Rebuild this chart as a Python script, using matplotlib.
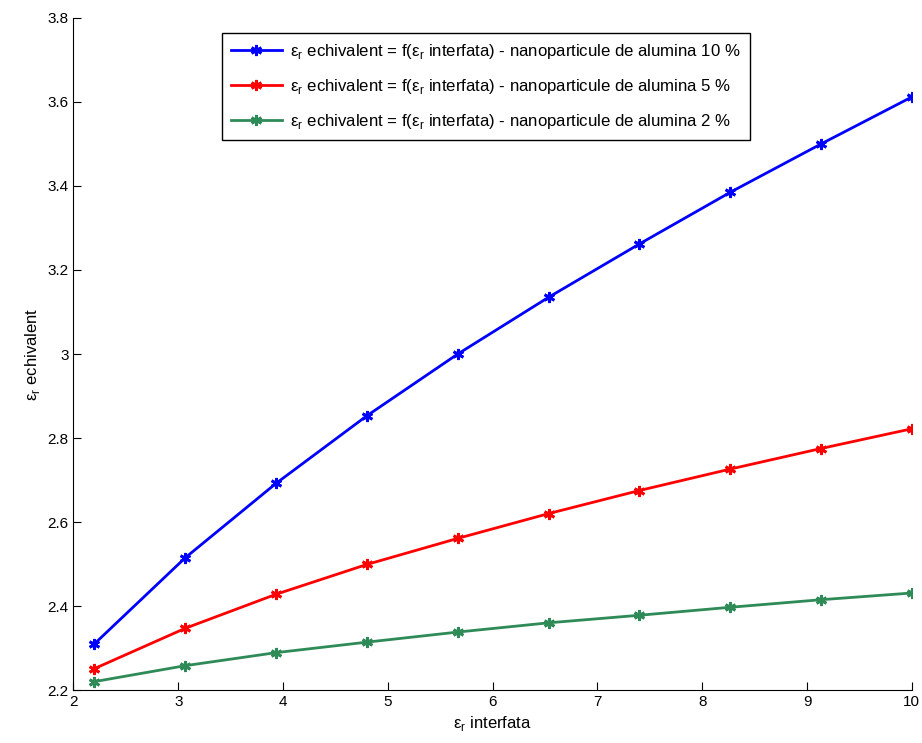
import numpy as np
import matplotlib.pyplot as plt
from matplotlib.ticker import FuncFormatter

plt.rcParams['font.family'] = ['Liberation Sans', 'DejaVu Sans']
plt.rcParams['mathtext.fontset'] = 'custom'
plt.rcParams['mathtext.rm'] = 'Liberation Sans'

# date
eps_interfata = [2.2, 3.067, 3.933, 4.8, 5.667, 6.533, 7.4, 8.267, 9.133, 10.0]
eps_10 = [2.31, 2.515, 2.692, 2.853, 3.0, 3.135, 3.262, 3.385, 3.50, 3.612]
eps_5 = [2.251, 2.347, 2.428, 2.499, 2.561, 2.620, 2.675, 2.726, 2.775, 2.822]
eps_2 = [2.220, 2.258, 2.289, 2.314, 2.338, 2.360, 2.378, 2.397, 2.415, 2.431]

er = r'ε$_\mathregular{r}$'
labels = [
    er + ' echivalent = f(' + er + ' interfata) - nanoparticule de alumina 10 %',
    er + ' echivalent = f(' + er + ' interfata) - nanoparticule de alumina 5 %',
    er + ' echivalent = f(' + er + ' interfata) - nanoparticule de alumina 2 %',
]
culori = ['#0000ff', '#ff0000', '#2e8b57']

fig = plt.figure(figsize=(9.22, 7.43), dpi=100)
ax = fig.add_axes([0.0797, 0.0713, 0.9093, 0.9045])

for y, lab, c in zip([eps_10, eps_5, eps_2], labels, culori):
    ax.plot(eps_interfata, y, '-', color=c, lw=2, marker=(6, 2, 0),
            ms=8, mew=2, label=lab)

ax.set_xlim(2, 10)
ax.set_ylim(2.2, 3.8)
ax.set_xticks(np.arange(2, 11, 1))
ax.set_yticks(np.arange(2.2, 3.81, 0.2))
ax.yaxis.set_major_formatter(FuncFormatter(lambda v, p: '%g' % round(v, 1)))
ax.tick_params(direction='in', length=6, labelsize=11, width=0.8)
for s in ['top', 'right']:
    ax.spines[s].set_visible(False)

ax.set_xlabel(er + ' interfata', fontsize=12)
ax.set_ylabel(er + ' echivalent', fontsize=12)

leg = ax.legend(loc='upper left', bbox_to_anchor=(0.177, 0.978), fontsize=12.1,
                fancybox=False, framealpha=1, edgecolor='black',
                handlelength=3.0, handletextpad=0.5, borderaxespad=0,
                labelspacing=0.95, borderpad=0.55)
leg.get_frame().set_linewidth(1)

fig.savefig('out.png', dpi=100)
